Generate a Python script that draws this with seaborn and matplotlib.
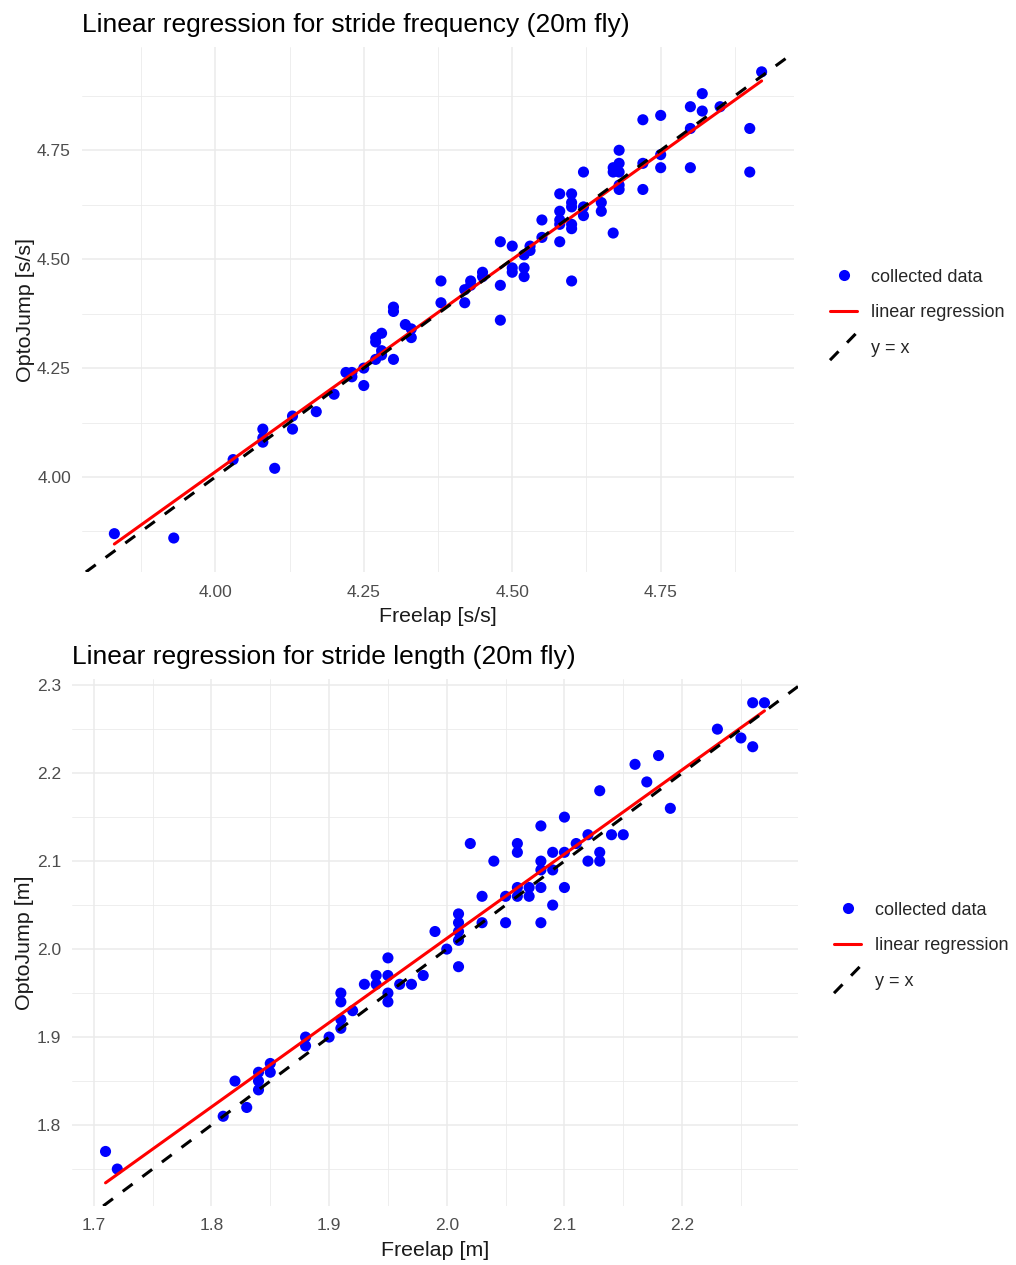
import matplotlib
matplotlib.use("Agg")
import matplotlib.pyplot as plt
from matplotlib.lines import Line2D
from matplotlib.legend_handler import HandlerBase
from matplotlib.ticker import FormatStrFormatter
import numpy as np
import pandas as pd
import seaborn as sns

# ---------------- data: stride frequency (20m fly) ----------------
freq_freelap = [3.83, 3.93, 4.03, 4.08, 4.08, 4.08, 4.10, 4.13, 4.13, 4.17,
                4.20, 4.22, 4.23, 4.23, 4.25, 4.25, 4.27, 4.27, 4.27, 4.28,
                4.28, 4.28, 4.30, 4.30, 4.30, 4.32, 4.33, 4.33, 4.38, 4.38,
                4.42, 4.42, 4.43, 4.43, 4.45, 4.45, 4.48, 4.48, 4.48, 4.50,
                4.50, 4.50, 4.52, 4.52, 4.52, 4.53, 4.53, 4.55, 4.55, 4.58,
                4.58, 4.58, 4.58, 4.58, 4.60, 4.60, 4.60, 4.60, 4.60, 4.60,
                4.62, 4.62, 4.62, 4.65, 4.65, 4.67, 4.67, 4.67, 4.68, 4.68,
                4.68, 4.68, 4.68, 4.72, 4.72, 4.72, 4.75, 4.75, 4.75, 4.80,
                4.80, 4.80, 4.82, 4.82, 4.85, 4.90, 4.90, 4.92]
freq_optojump = [3.87, 3.86, 4.04, 4.11, 4.09, 4.08, 4.02, 4.14, 4.11, 4.15,
                 4.19, 4.24, 4.24, 4.23, 4.25, 4.21, 4.27, 4.31, 4.32, 4.33,
                 4.28, 4.29, 4.27, 4.39, 4.38, 4.35, 4.34, 4.32, 4.45, 4.40,
                 4.43, 4.40, 4.45, 4.44, 4.47, 4.46, 4.54, 4.44, 4.36, 4.53,
                 4.48, 4.47, 4.51, 4.48, 4.46, 4.53, 4.52, 4.59, 4.55, 4.65,
                 4.61, 4.59, 4.58, 4.54, 4.65, 4.63, 4.62, 4.58, 4.57, 4.45,
                 4.70, 4.62, 4.60, 4.63, 4.61, 4.71, 4.70, 4.56, 4.75, 4.72,
                 4.70, 4.67, 4.66, 4.82, 4.72, 4.66, 4.83, 4.74, 4.71, 4.85,
                 4.80, 4.71, 4.88, 4.84, 4.85, 4.80, 4.70, 4.93]

# ---------------- data: stride length (20m fly) ----------------
len_freelap = [1.71, 1.72, 1.81, 1.82, 1.83, 1.84, 1.84, 1.84, 1.85, 1.85,
               1.88, 1.88, 1.90, 1.91, 1.91, 1.91, 1.91, 1.92, 1.93, 1.94,
               1.94, 1.95, 1.95, 1.95, 1.95, 1.96, 1.97, 1.98, 1.99, 2.00,
               2.01, 2.01, 2.01, 2.01, 2.01, 2.02, 2.03, 2.03, 2.04, 2.05,
               2.05, 2.06, 2.06, 2.06, 2.06, 2.07, 2.07, 2.08, 2.08, 2.08,
               2.08, 2.08, 2.09, 2.09, 2.09, 2.10, 2.10, 2.10, 2.11, 2.12,
               2.12, 2.13, 2.13, 2.13, 2.14, 2.15, 2.16, 2.17, 2.18, 2.19,
               2.23, 2.25, 2.26, 2.26, 2.27]
len_optojump = [1.77, 1.75, 1.81, 1.85, 1.82, 1.86, 1.85, 1.84, 1.87, 1.86,
                1.90, 1.89, 1.90, 1.95, 1.94, 1.92, 1.91, 1.93, 1.96, 1.97,
                1.96, 1.99, 1.97, 1.95, 1.94, 1.96, 1.96, 1.97, 2.02, 2.00,
                2.04, 2.03, 2.02, 2.01, 1.98, 2.12, 2.06, 2.03, 2.10, 2.06,
                2.03, 2.12, 2.11, 2.07, 2.06, 2.07, 2.06, 2.14, 2.10, 2.09,
                2.07, 2.03, 2.11, 2.09, 2.05, 2.15, 2.11, 2.07, 2.12, 2.13,
                2.10, 2.18, 2.11, 2.10, 2.13, 2.13, 2.21, 2.19, 2.22, 2.16,
                2.25, 2.24, 2.23, 2.28, 2.28]

titles = ["Linear regression for stride frequency (20m fly)",
          "Linear regression for stride length (20m fly)"]
xlabels = ["Freelap [s/s]", "Freelap [m]"]
ylabels = ["OptoJump [s/s]", "OptoJump [m]"]
legend_labels = ["collected data", "linear regression", "y = x"]

freq_major = [4.00, 4.25, 4.50, 4.75]
freq_minor = [3.875, 4.125, 4.375, 4.625, 4.875]
len_xmajor = [1.7, 1.8, 1.9, 2.0, 2.1, 2.2]
len_xminor = [1.75, 1.85, 1.95, 2.05, 2.15, 2.25]
len_ymajor = [1.8, 1.9, 2.0, 2.1, 2.2, 2.3]
len_yminor = [1.75, 1.85, 1.95, 2.05, 2.15, 2.25]

# ---------------- style ----------------
sns.set_theme(style="white")
plt.rcParams["font.family"] = ["Liberation Sans", "DejaVu Sans"]

BLUE = "#0000FF"
RED = "#FF0000"
GRID = "#EBEBEB"
LW = 2.2


class DiagHandler(HandlerBase):
    def create_artists(self, legend, orig_handle, xdescent, ydescent,
                       width, height, fontsize, trans):
        x0 = -xdescent
        y0 = -ydescent
        line = Line2D([x0, x0 + width], [y0 - 0.6 * height, y0 + 1.6 * height],
                      color=orig_handle.get_color(),
                      linewidth=orig_handle.get_linewidth())
        line.set_dashes((4, 4))
        line.set_transform(trans)
        return [line]


fig = plt.figure(figsize=(10.16, 12.65), dpi=100)
W, H = 1016, 1265
ax1 = fig.add_axes([82 / W, 1 - 572 / H, 712 / W, 525 / H])
ax2 = fig.add_axes([72 / W, 1 - 1206 / H, 726 / W, 527 / H])

panels = [
    (ax1, freq_freelap, freq_optojump, freq_major, freq_minor, freq_major, freq_minor,
     "%.2f", "%.2f", (3.7755, 4.9745), (3.782, 4.987)),
    (ax2, len_freelap, len_optojump, len_xmajor, len_xminor, len_ymajor, len_yminor,
     "%.1f", "%.1f", (1.6815, 2.2985), (1.708, 2.307)),
]

for i, (ax, xv, yv, xmaj, xmin, ymaj, ymin, xf, yf, xlim, ylim) in enumerate(panels):
    df = pd.DataFrame({"x": xv, "y": yv})
    sns.scatterplot(data=df, x="x", y="y", ax=ax, color=BLUE, s=64,
                    linewidth=0, edgecolor="none", zorder=2)
    sns.regplot(data=df, x="x", y="y", ax=ax, scatter=False, ci=None,
                color=RED, line_kws={"lw": LW, "zorder": 3})
    ax.axline((0, 0), slope=1, color="black", lw=LW, linestyle=(0, (4, 4)), zorder=4)

    ax.set_xlim(*xlim)
    ax.set_ylim(*ylim)
    ax.set_xticks(xmaj)
    ax.set_xticks(xmin, minor=True)
    ax.set_yticks(ymaj)
    ax.set_yticks(ymin, minor=True)
    ax.xaxis.set_major_formatter(FormatStrFormatter(xf))
    ax.yaxis.set_major_formatter(FormatStrFormatter(yf))
    ax.set_axisbelow(True)
    ax.grid(which="major", color=GRID, lw=1.1)
    ax.grid(which="minor", color=GRID, lw=0.6)
    for s in ax.spines.values():
        s.set_visible(False)
    ax.tick_params(which="both", length=0)
    ax.tick_params(axis="x", which="major", labelsize=12.5, labelcolor="#4D4D4D", pad=9)
    ax.tick_params(axis="y", which="major", labelsize=12.5, labelcolor="#4D4D4D", pad=8)

    ax.set_xlabel(xlabels[i], fontsize=15.4, color="#1A1A1A", labelpad=5.5)
    ax.set_ylabel(ylabels[i], fontsize=15.4, color="#1A1A1A", labelpad=1.5)
    ax.set_title(titles[i], loc="left", fontsize=19, color="black", pad=10.8)

    h1 = Line2D([], [], marker="o", ls="none", color=BLUE, markersize=8,
                markeredgewidth=0)
    h2 = Line2D([], [], color=RED, lw=LW)
    h3 = Line2D([], [], color="black", lw=LW, linestyle=(0, (4, 4)))
    anchor_x = (830 - 82) / 712 if i == 0 else (834 - 72) / 726
    anchor_y = 0.494
    ax.legend(handles=[h1, h2, h3], labels=legend_labels, loc="center left",
              bbox_to_anchor=(anchor_x, anchor_y), frameon=False, fontsize=13,
              handlelength=1.5, handletextpad=0.78, labelspacing=1.02,
              borderpad=0, borderaxespad=0, handler_map={h3: DiagHandler()})

fig.savefig("out.png", dpi=100, facecolor="white")
